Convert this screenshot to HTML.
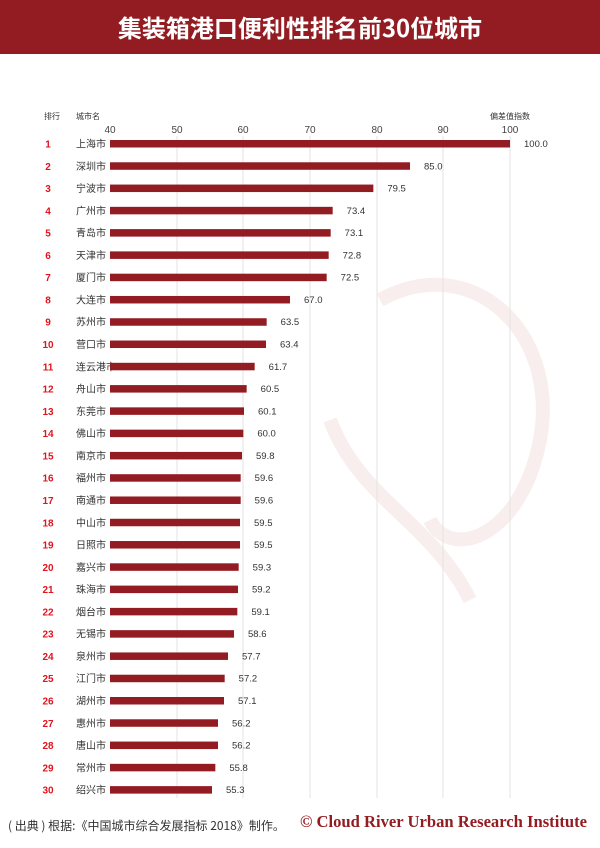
<!DOCTYPE html>
<html><head><meta charset="utf-8"><style>
body{margin:0;width:600px;height:848px;background:#fff;font-family:"Liberation Sans","Noto Sans CJK SC",sans-serif;position:relative;overflow:hidden}
.t{position:absolute;left:0;top:0;width:600px;height:54px;background:#931c22;color:#fff;font-size:24px;font-weight:bold;text-align:center;line-height:54px;font-family:"Noto Sans CJK SC",sans-serif}
.a{position:absolute;font-size:10px;color:#333;white-space:nowrap}
</style></head><body>
<div class="t">集装箱港口便利性排名前30位城市</div>
<svg width="600" height="848" style="position:absolute;left:0;top:0">
<g fill="none" stroke="#f8eaea" stroke-width="14" opacity="0.8">
<path d="M380 300 C 470 250, 560 330, 540 440 C 520 540, 450 560, 430 520"/>
<path d="M330 420 C 360 500, 430 520, 470 600"/>
</g>
<g stroke="#e3e3e3" stroke-width="1">
<line x1="177" y1="136" x2="177" y2="798"/><line x1="243" y1="136" x2="243" y2="798"/><line x1="310" y1="136" x2="310" y2="798"/><line x1="377" y1="136" x2="377" y2="798"/><line x1="443" y1="136" x2="443" y2="798"/><line x1="510" y1="136" x2="510" y2="798"/>
</g>
<g font-family="Liberation Sans,sans-serif" font-size="10" fill="#444" text-anchor="middle">
<text x="110" y="133">40</text><text x="177" y="133">50</text><text x="243" y="133">60</text><text x="310" y="133">70</text><text x="377" y="133">80</text><text x="443" y="133">90</text><text x="510" y="133">100</text>
</g>
<g font-family="Noto Sans CJK SC,sans-serif" font-size="8" fill="#333">
<text x="44" y="119">排行</text><text x="76" y="119">城市名</text><text x="490" y="119">偏差值指数</text>
</g>
<g id="rows"></g>
</svg>
<div class="a" style="left:8px;top:817px;font-size:12px;font-family:'Noto Sans CJK SC',sans-serif">( 出典 ) 根据:《中国城市综合发展指标 2018》制作。</div>
<div class="a" style="left:300px;top:812px;font-size:16.6px;font-weight:bold;color:#931c22;font-family:'Liberation Serif',serif">© Cloud River Urban Research Institute</div>
<script>
var d=[["上海市",100.0],["深圳市",85.0],["宁波市",79.5],["广州市",73.4],["青岛市",73.1],["天津市",72.8],["厦门市",72.5],["大连市",67.0],["苏州市",63.5],["营口市",63.4],["连云港市",61.7],["舟山市",60.5],["东莞市",60.1],["佛山市",60.0],["南京市",59.8],["福州市",59.6],["南通市",59.6],["中山市",59.5],["日照市",59.5],["嘉兴市",59.3],["珠海市",59.2],["烟台市",59.1],["无锡市",58.6],["泉州市",57.7],["江门市",57.2],["湖州市",57.1],["惠州市",56.2],["唐山市",56.2],["常州市",55.8],["绍兴市",55.3]];
var s="";
d.forEach(function(r,i){var y=143.5+i*22.28;var w=(r[1]-40)*6.667;
s+='<text x="48" y="'+(y+4)+'" font-size="10" font-weight="bold" fill="#e0141e" text-anchor="middle" font-family="Liberation Sans,sans-serif">'+(i+1)+'</text>';
s+='<text x="76" y="'+(y+4)+'" font-size="10" fill="#333" font-family="Noto Sans CJK SC,sans-serif">'+r[0]+'</text>';
s+='<rect x="110" y="'+(y-3.5)+'" width="'+w+'" height="7.5" fill="#931c22"/>';
s+='<text x="'+(110+w+14)+'" y="'+(y+3.5)+'" font-size="9.5" fill="#333" font-family="Liberation Sans,sans-serif">'+r[1].toFixed(1)+'</text>';});
document.getElementById("rows").innerHTML=s;
</script>
</body></html>
